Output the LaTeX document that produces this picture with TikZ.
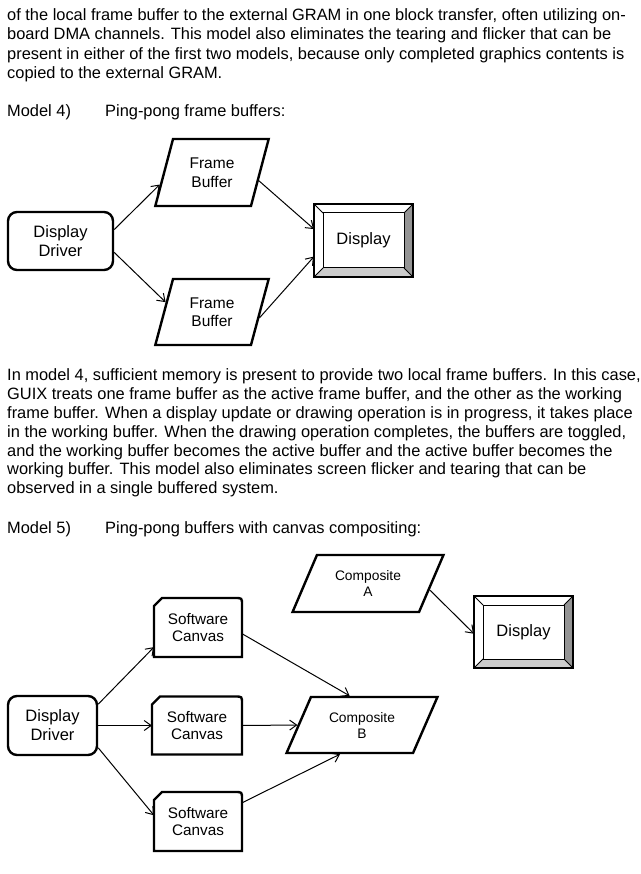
\documentclass[tikz,border=0pt]{standalone}
\usepackage{fontspec}
\setmainfont{Liberation Sans}
\usetikzlibrary{shapes.geometric,arrows.meta,calc}

\tikzset{
	txt/.style={anchor=base west, inner sep=0pt, font=\fontsize{16.4}{19}\selectfont},
	drvbox/.style={draw, line width=2.4pt, rounded corners=9pt, align=center, font=\fontsize{16.5}{19}\selectfont},
	bufbox/.style={trapezium, trapezium stretches=true, trapezium left angle=72, trapezium right angle=108,
		draw, line width=2.4pt, minimum width=114pt, minimum height=67pt, align=center, font=\fontsize{15.5}{18.5}\selectfont},
	compbox/.style={trapezium, trapezium stretches=true, trapezium left angle=62, trapezium right angle=118,
		draw, line width=2.4pt, minimum width=151pt, minimum height=57pt, align=center, font=\fontsize{13.8}{16}\selectfont},
	dispbox/.style={minimum width=99pt, minimum height=73pt, outer sep=0pt, font=\fontsize{16.5}{19}\selectfont},
	canvbox/.style={minimum width=88pt, minimum height=59pt, outer sep=0pt, align=center, font=\fontsize{15.3}{17.5}\selectfont},
	arr/.style={line width=1pt, -{Straight Barb[length=7pt,width=10pt]}}
}

% bevelled display frame round a node
\newcommand{\bevel}[1]{%
	\fill[black!20] (#1.south west) -- (#1.south east) -- ($(#1.south east)+(-9pt,9pt)$) -- ($(#1.south west)+(9pt,9pt)$) -- cycle;
	\fill[black!42] (#1.south east) -- (#1.north east) -- ($(#1.north east)+(-9pt,-9pt)$) -- ($(#1.south east)+(-9pt,9pt)$) -- cycle;
	\draw[line width=1.5pt] (#1.south west) rectangle (#1.north east);
	\draw[line width=1pt] ($(#1.south west)+(9pt,9pt)$) rectangle ($(#1.north east)+(-9pt,-9pt)$);
	\draw[line width=1pt] (#1.south west) -- ++(9pt,9pt) (#1.south east) -- ++(-9pt,9pt)
		(#1.north east) -- ++(-9pt,-9pt) (#1.north west) -- ++(9pt,-9pt);
}
% canvas outline: cut corner top left, round corner top right
\newcommand{\canvas}[1]{%
	\draw[line width=2.4pt] (#1.south west) -- ($(#1.north west)+(0,-8pt)$) -- ($(#1.north west)+(8pt,0)$)
		-- ($(#1.north east)+(-7pt,0)$) .. controls (#1.north east) .. ($(#1.north east)+(0,-7pt)$)
		-- (#1.south east) -- cycle;
}

\begin{document}
\begin{tikzpicture}[x=1pt,y=-1pt]
	\useasboundingbox (0,0) rectangle (640,874);

	\node[txt] (p1a) at (7,20.7) {of the local frame buffer to the external GRAM in one block transfer, often utilizing on-};
	\node[txt] (p1b) at (7,39.9) {board DMA channels. This model also eliminates the tearing and flicker that can be};
	\node[txt] (p1c) at (7,59.1) {present in either of the first two models, because only completed graphics contents is};
	\node[txt] (p1d) at (7,78.3) {copied to the external GRAM.};
	\node[txt] (m4) at (7,116.7) {Model 4)};
	\node[txt] (m4t) at (105,116.7) {Ping-pong frame buffers:};

	% model 4
	\node[drvbox, minimum width=105pt, minimum height=58pt] (driver) at (60.5,241) {Display\\Driver};
	\node[bufbox] (fbA) at (212,172.5) {Frame\\Buffer};
	\node[bufbox, minimum height=66pt] (fbB) at (212,312) {Frame\\Buffer};
	\node[dispbox] (disp) at (363.5,240.5) {Display};
	\bevel{disp}

	\draw[arr] (driver.12) -- (fbA.193);
	\draw[arr] (driver.-12) -- (fbB.168);
	\draw[arr] (fbA.-10) -- (disp.167);
	\draw[arr] (fbB.-7) -- (disp.198);

	\node[txt] (p2a) at (7,380.8) {In model 4, sufficient memory is present to provide two local frame buffers. In this case,};
	\node[txt] (p2b) at (7,399.6) {GUIX treats one frame buffer as the active frame buffer, and the other as the working};
	\node[txt] (p2c) at (7,418.4) {frame buffer. When a display update or drawing operation is in progress, it takes place};
	\node[txt] (p2d) at (7,437.2) {in the working buffer. When the drawing operation completes, the buffers are toggled,};
	\node[txt] (p2e) at (7,456) {and the working buffer becomes the active buffer and the active buffer becomes the};
	\node[txt] (p2f) at (7,474.8) {working buffer. This model also eliminates screen flicker and tearing that can be};
	\node[txt] (p2g) at (7,493.6) {observed in a single buffered system.};
	\node[txt] (m5) at (7,533.3) {Model 5)};
	\node[txt] (m5t) at (105,533.3) {Ping-pong buffers with canvas compositing:};

	% model 5
	\node[drvbox, minimum width=89pt, minimum height=59pt] (drv) at (52.5,725.5) {Display\\Driver};
	\node[canvbox] (canvA) at (198,627.5) {Software\\Canvas};
	\node[canvbox, minimum width=90pt, minimum height=58pt] (canvB) at (197,725.5) {Software\\Canvas};
	\node[canvbox] (canvC) at (198,821.5) {Software\\Canvas};
	\canvas{canvA}
	\canvas{canvB}
	\canvas{canvC}
	\node[compbox] (compA) at (368,583.5) {Composite\\A};
	\node[compbox, minimum height=56pt] (compB) at (362,725) {Composite\\B};
	\node[dispbox, minimum height=72pt] (disp2) at (523.5,632) {Display};
	\bevel{disp2}

	\draw[arr] (drv.25) -- (canvA.204);
	\draw[arr] (drv.east) -- (canvB.west);
	\draw[arr] (drv.-26) -- (canvC.172);
	\draw[arr] (canvA.-8) -- (compB.113);
	\draw[arr] (canvB.east) -- (compB.180);
	\draw[arr] (canvC.23) -- (compB.233);
	\draw[arr] (compA.-6) -- (disp2.182);
\end{tikzpicture}
\end{document}
